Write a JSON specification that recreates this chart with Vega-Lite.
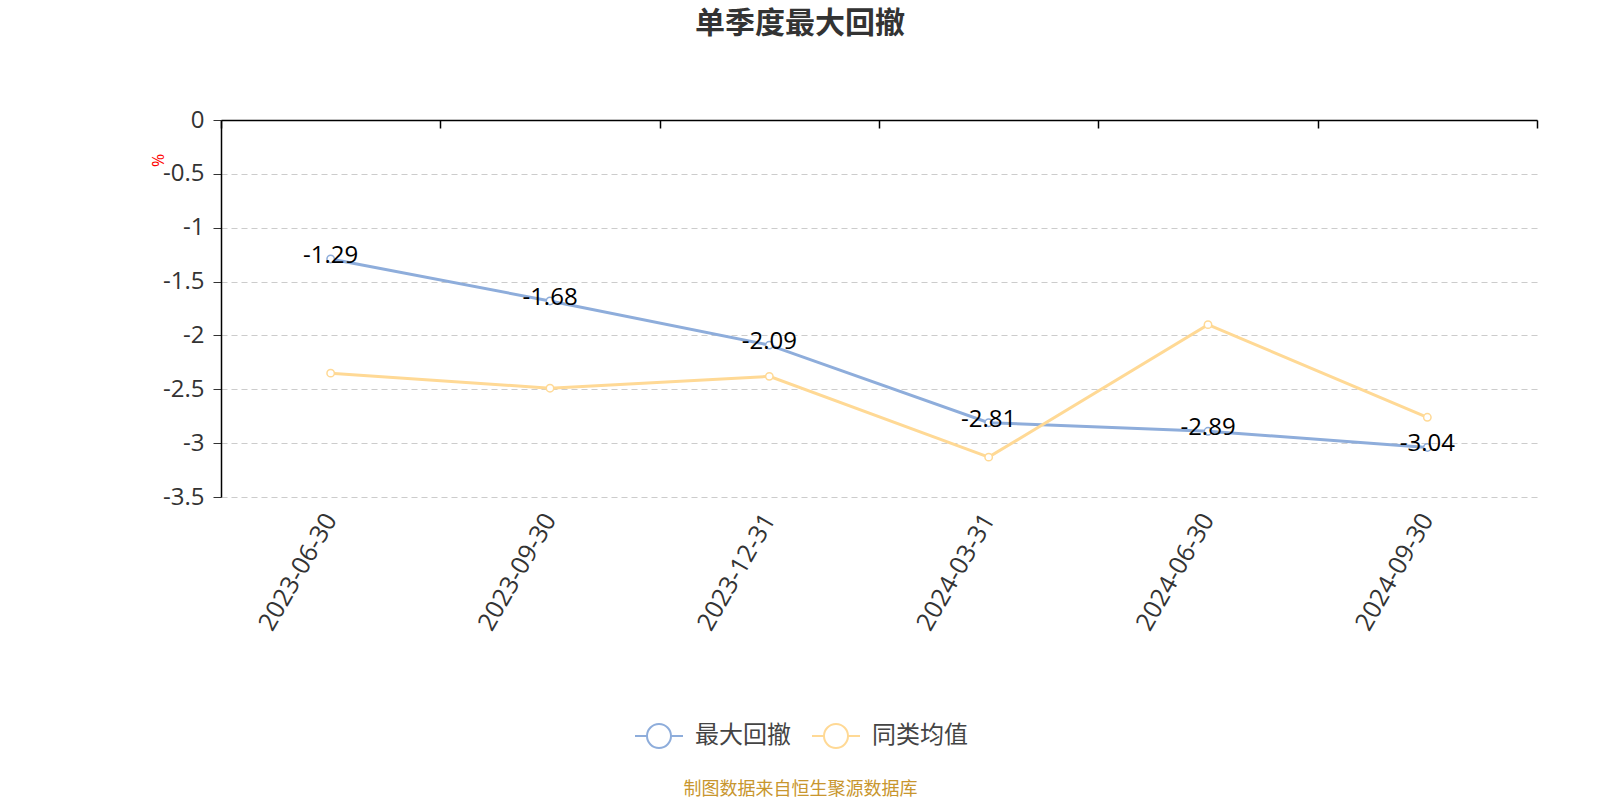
{
  "$schema": "https://vega.github.io/schema/vega-lite/v6.json",
  "autosize": {"type": "none"},
  "width": 1316,
  "height": 377,
  "padding": {"left": 221, "top": 120, "right": 63, "bottom": 303},
  "background": "white",
  "config": {"font": "Open Sans, Noto Sans CJK SC", "view": {"stroke": null}},
  "title": {
    "text": "单季度最大回撤",
    "font": "Noto Sans CJK SC",
    "fontSize": 30,
    "fontWeight": "bold",
    "color": "#333333",
    "anchor": "middle",
    "frame": "group",
    "dx": -79,
    "offset": 69
  },
  "data": {
    "values": [
      {"date": "2023-06-30", "series": "最大回撤", "value": -1.29},
      {"date": "2023-09-30", "series": "最大回撤", "value": -1.68},
      {"date": "2023-12-31", "series": "最大回撤", "value": -2.09},
      {"date": "2024-03-31", "series": "最大回撤", "value": -2.81},
      {"date": "2024-06-30", "series": "最大回撤", "value": -2.89},
      {"date": "2024-09-30", "series": "最大回撤", "value": -3.04},
      {"date": "2023-06-30", "series": "同类均值", "value": -2.35},
      {"date": "2023-09-30", "series": "同类均值", "value": -2.49},
      {"date": "2023-12-31", "series": "同类均值", "value": -2.38},
      {"date": "2024-03-31", "series": "同类均值", "value": -3.13},
      {"date": "2024-06-30", "series": "同类均值", "value": -1.90},
      {"date": "2024-09-30", "series": "同类均值", "value": -2.76}
    ]
  },
  "resolve": {"axis": {"x": "independent"}},
  "layer": [
    {
      "mark": {"type": "line", "strokeWidth": 3},
      "encoding": {
        "x": {
          "field": "date", "type": "nominal", "bandPosition": 0.5,
          "scale": {"type": "band", "paddingInner": 0, "paddingOuter": 0},
          "axis": {
            "orient": "bottom", "domain": false, "ticks": false, "grid": false,
            "labelAngle": -60, "labelFontSize": 25, "labelColor": "#333333", "labelPadding": 18,
            "title": "制图数据来自恒生聚源数据库", "titleColor": "#C8962E", "titleFontSize": 18,
            "titleFont": "Noto Sans CJK SC",
            "titleFontWeight": "normal", "titleX": 579, "titleY": 292, "titleAlign": "center", "titleBaseline": "middle"
          }
        },
        "y": {
          "field": "value", "type": "quantitative",
          "scale": {"domain": [-3.5, 0], "nice": false, "zero": false},
          "axis": {
            "values": [0, -0.5, -1, -1.5, -2, -2.5, -3, -3.5],
            "labelExpr": "datum.value + ''",
            "labelFontSize": 24, "labelColor": "#333333", "labelPadding": 9,
            "domainColor": "#000000", "domainWidth": 1.5, "tickColor": "#333333", "tickSize": 8,
            "grid": true, "gridColor": "#cccccc", "gridDash": [6, 4], "gridWidth": 1.2,
            "title": "%", "titleColor": "#ff0000", "titleFontSize": 16, "titleFontWeight": "normal",
            "titleAngle": -90, "titleX": -63, "titleY": 40, "titleAlign": "center", "titleBaseline": "middle"
          }
        },
        "color": {
          "field": "series", "type": "nominal",
          "scale": {"domain": ["最大回撤", "同类均值"], "range": ["#8EADDB", "#FFD995"]},
          "legend": {
            "orient": "none", "direction": "horizontal", "legendX": 425, "legendY": 603,
            "title": null, "labelFontSize": 24, "labelColor": "#444444", "labelFont": "Noto Sans CJK SC",
            "symbolType": "M-2,0L-1,0M1,0L2,0M-1,0A1,1,0,1,1,1,0A1,1,0,1,1,-1,0Z",
            "symbolSize": 576, "symbolStrokeWidth": 2, "symbolFillColor": "#ffffff",
            "labelOffset": 23, "columnPadding": 17
          }
        }
      }
    },
    {
      "mark": {"type": "point", "shape": "circle", "filled": true, "fill": "#ffffff", "strokeWidth": 1.5, "size": 55, "opacity": 1},
      "encoding": {
        "x": {
          "field": "date", "type": "nominal", "bandPosition": 0.5,
          "axis": {
            "orient": "top", "labels": false, "grid": false, "title": null,
            "domainColor": "#000000", "domainWidth": 1.5, "tickColor": "#000000", "tickSize": -8, "tickWidth": 1.5,
            "tickBand": "extent"
          }
        },
        "y": {"field": "value", "type": "quantitative"},
        "stroke": {"field": "series", "type": "nominal", "scale": {"domain": ["最大回撤", "同类均值"], "range": ["#8EADDB", "#FFD995"]}, "legend": null}
      }
    },
    {
      "transform": [{"filter": "datum.series === '最大回撤'"}],
      "mark": {"type": "text", "fontSize": 24, "color": "#000000", "baseline": "middle", "align": "center", "dy": -3},
      "encoding": {
        "x": {"field": "date", "type": "nominal", "bandPosition": 0.5, "axis": null},
        "y": {"field": "value", "type": "quantitative"},
        "text": {"field": "value", "type": "nominal"}
      }
    }
  ]
}
